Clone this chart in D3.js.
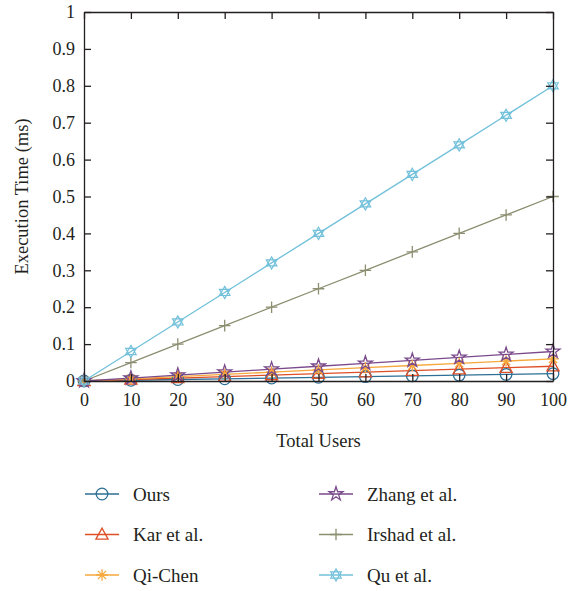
<!DOCTYPE html>
<html>
<head>
<meta charset="utf-8">
<script src="https://cdn.jsdelivr.net/npm/d3@7"></script>
<style>
  body { margin: 0; background: #fff; }
  svg text { font-family: "Liberation Serif" !important; }
</style>
</head>
<body>
<svg id="chart" width="568" height="591" font-family="Liberation Serif"></svg>
<script>
// data
const users = [0, 10, 20, 30, 40, 50, 60, 70, 80, 90, 100];
const ours    = [0, 0.002, 0.004, 0.006, 0.008, 0.010, 0.012, 0.014, 0.016, 0.018, 0.020];
const kar     = [0, 0.004, 0.008, 0.012, 0.016, 0.020, 0.024, 0.028, 0.032, 0.036, 0.040];
const qiChen  = [0, 0.006, 0.012, 0.018, 0.024, 0.030, 0.036, 0.042, 0.048, 0.054, 0.060];
const zhang   = [0, 0.008, 0.016, 0.024, 0.032, 0.040, 0.048, 0.056, 0.064, 0.072, 0.080];
const irshad  = [0, 0.05, 0.10, 0.15, 0.20, 0.25, 0.30, 0.35, 0.40, 0.45, 0.50];
const qu      = [0, 0.08, 0.16, 0.24, 0.32, 0.40, 0.48, 0.56, 0.64, 0.72, 0.80];
const seriesNames = ["Ours", "Kar et al.", "Qi-Chen", "Zhang et al.", "Irshad et al.", "Qu et al."];
const yTicks = [0, 0.1, 0.2, 0.3, 0.4, 0.5, 0.6, 0.7, 0.8, 0.9, 1];

const series = [
  {name: seriesNames[0], values: ours,   color: "#2d6f95", marker: "circle"},
  {name: seriesNames[1], values: kar,    color: "#de4f26", marker: "triangle"},
  {name: seriesNames[2], values: qiChen, color: "#f6a83c", marker: "asterisk"},
  {name: seriesNames[3], values: zhang,  color: "#7a4a8c", marker: "star"},
  {name: seriesNames[4], values: irshad, color: "#8c8e70", marker: "plus"},
  {name: seriesNames[5], values: qu,     color: "#72c0da", marker: "hexagram"}
];

const INK = "#231f20";

const svg = d3.select("#chart");
const margin = {left: 84, top: 12, right: 15, bottom: 210};
const innerWidth = 568 - margin.left - margin.right;
const innerHeight = 591 - margin.top - margin.bottom;

const xScale = d3.scaleLinear().domain([0, 100]).range([0, innerWidth]);
const yScale = d3.scaleLinear().domain([0, 1]).range([innerHeight, 0]);

const g = svg.append("g").attr("transform", `translate(${margin.left},${margin.top})`);

// marker drawing
function drawMarker(sel, type, color) {
  const s = 5.8;
  if (type === "circle") {
    sel.append("circle").attr("r", s).attr("fill", "none").attr("stroke", color).attr("stroke-width", 1.3);
  } else if (type === "triangle") {
    sel.append("path").attr("d", `M0,${-s*1.1}L${s*1.05},${s*0.8}L${-s*1.05},${s*0.8}Z`)
      .attr("fill", "none").attr("stroke", color).attr("stroke-width", 1.3);
  } else if (type === "asterisk") {
    let d = "";
    for (let i = 0; i < 4; i++) {
      const a = i * Math.PI / 4;
      d += `M${-s*Math.cos(a)},${-s*Math.sin(a)}L${s*Math.cos(a)},${s*Math.sin(a)}`;
    }
    sel.append("path").attr("d", d).attr("stroke", color).attr("stroke-width", 1.3);
  } else if (type === "star") {
    sel.append("path").attr("d", d3.symbol(d3.symbolStar, 60)())
      .attr("fill", "none").attr("stroke", color).attr("stroke-width", 1.3);
  } else if (type === "plus") {
    sel.append("path").attr("d", `M${-s},0L${s},0M0,${-s}L0,${s}`)
      .attr("stroke", color).attr("stroke-width", 1.3);
  } else if (type === "hexagram") {
    const r = s * 1.05;
    const tri = k => d3.range(3).map(i => {
      const a = -Math.PI / 2 + k * Math.PI / 3 + i * 2 * Math.PI / 3;
      return [r * Math.cos(a), r * Math.sin(a)];
    });
    const p1 = tri(0), p2 = tri(1);
    sel.append("path").attr("d", "M" + p1.join("L") + "Z" + "M" + p2.join("L") + "Z")
      .attr("fill", "none").attr("stroke", color).attr("stroke-width", 1.2);
  }
}

// lines
const line = d3.line().x((d, i) => xScale(users[i])).y(d => yScale(d));
series.forEach(s => {
  g.append("path").datum(s.values)
    .attr("d", line)
    .attr("fill", "none")
    .attr("stroke", s.color)
    .attr("stroke-width", 1.3);
});
series.forEach(s => {
  s.values.forEach((v, i) => {
    const m = g.append("g").attr("transform", `translate(${xScale(users[i])},${yScale(v)})`);
    drawMarker(m, s.marker, s.color);
  });
});

// axes box
const tickLen = 7;
const xAxis = d3.axisBottom(xScale).tickValues(users).tickSizeInner(-tickLen).tickSizeOuter(0).tickPadding(12);
const yAxis = d3.axisLeft(yScale).tickValues(yTicks).tickSizeInner(-tickLen).tickSizeOuter(0).tickPadding(9)
  .tickFormat(d => d === 0 ? "0" : d === 1 ? "1" : d3.format(".1f")(d));
const xTop = d3.axisTop(xScale).tickValues(users).tickSizeInner(-tickLen).tickSizeOuter(0).tickFormat("");
const yRight = d3.axisRight(yScale).tickValues(yTicks).tickSizeInner(-tickLen).tickSizeOuter(0).tickFormat("");

g.append("g").attr("transform", `translate(0,${innerHeight})`).call(xAxis);
g.append("g").call(yAxis);
g.append("g").call(xTop);
g.append("g").attr("transform", `translate(${innerWidth},0)`).call(yRight);

g.selectAll(".domain").attr("stroke", INK).attr("stroke-width", 1.3);
g.selectAll(".tick line").attr("stroke", INK).attr("stroke-width", 1.3);
g.selectAll("g").attr("font-family", null).attr("font-size", null);
g.selectAll(".tick text")
  .attr("font-size", 18)
  .attr("fill", INK);

// axis titles
g.append("text")
  .attr("x", innerWidth / 2)
  .attr("y", innerHeight + 66)
  .attr("text-anchor", "middle")
  .attr("font-size", 18.5)
  .attr("fill", INK)
  .text("Total Users");

g.append("text")
  .attr("transform", "rotate(-90)")
  .attr("x", -innerHeight / 2)
  .attr("y", -56)
  .attr("text-anchor", "middle")
  .attr("font-size", 18.5)
  .attr("fill", INK)
  .text("Execution Time (ms)");

// legend
const legend = svg.append("g");
series.forEach((s, i) => {
  const col = Math.floor(i / 3), row = i % 3;
  const lx = 85 + col * 234, ly = 494 + row * 40.5;
  const item = legend.append("g").attr("transform", `translate(${lx},${ly})`);
  item.append("line").attr("x1", 0).attr("x2", 34).attr("y1", 0).attr("y2", 0)
    .attr("stroke", s.color).attr("stroke-width", 1.3);
  const m = item.append("g").attr("transform", "translate(17,0)");
  drawMarker(m, s.marker, s.color);
  item.append("text").attr("x", 48).attr("y", 0).attr("dy", "0.35em")
    .attr("font-size", 19)
    .attr("fill", INK)
    .text(s.name);
});
</script>
</body>
</html>
